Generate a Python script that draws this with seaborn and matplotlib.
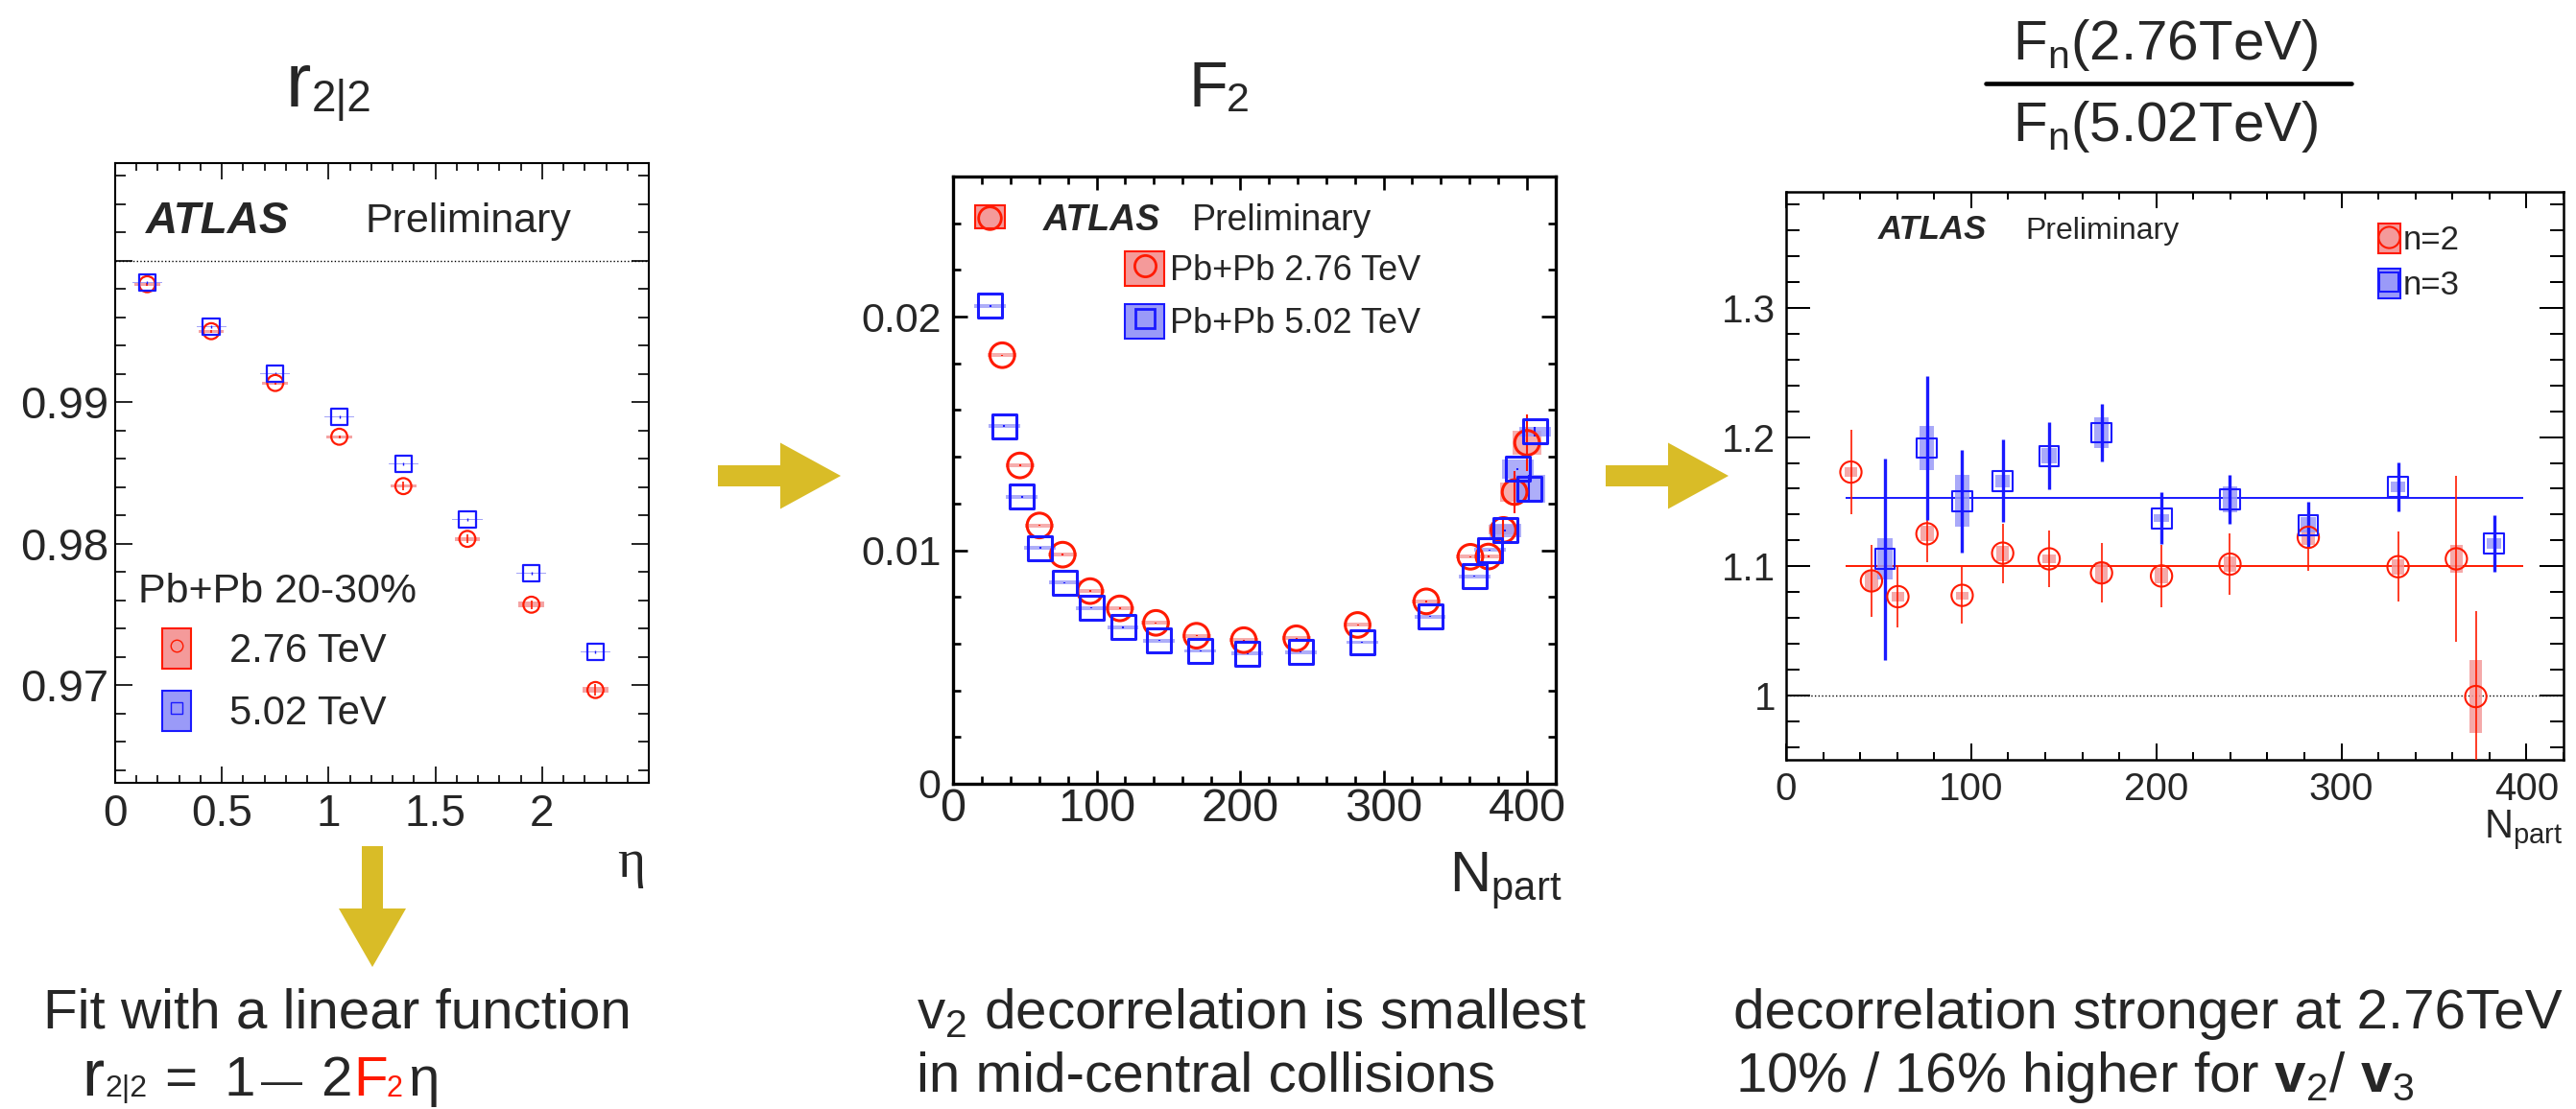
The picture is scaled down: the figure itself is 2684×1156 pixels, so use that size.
import numpy as np
import pandas as pd
import matplotlib
matplotlib.use('Agg')
import matplotlib.pyplot as plt
import seaborn as sns
from matplotlib.patches import Polygon, Patch
from matplotlib.lines import Line2D
from matplotlib.legend_handler import HandlerTuple
from matplotlib.ticker import MultipleLocator

W, H = 2684, 1156

# --- left panel: r2|2 vs eta, Pb+Pb 20-30%
eta = [0.15, 0.45, 0.75, 1.05, 1.35, 1.65, 1.95, 2.25]
r22_276 = [0.99834, 0.99502, 0.99136, 0.98756, 0.98407, 0.98034, 0.97569, 0.96966]
r22_276_stat = [0.0001, 0.0001, 0.0001, 0.0001, 0.0003, 0.0003, 0.0003, 0.0004]
r22_276_sys = [0.0001, 0.0001, 0.0001, 0.0001, 0.0001, 0.00015, 0.0002, 0.0002]
r22_502 = [0.99847, 0.99536, 0.99203, 0.98898, 0.98563, 0.98173, 0.97793, 0.97234]
r22_502_stat = [0.0001] * 8
r22_502_sys = [0.00004] * 8

# --- middle panel: F2 vs Npart
npart_276 = [34.3, 46.6, 60.2, 76.4, 95.5, 116.2, 141.4, 169.6, 202.6, 239.2,
             281.9, 329.8, 360.5, 373.1, 383.5, 391.3, 400.0]
f2_276 = [0.01835, 0.01363, 0.01106, 0.00981, 0.00825, 0.00751, 0.00689, 0.00634, 0.00615,
          0.00623, 0.00680, 0.00781, 0.00972, 0.00973, 0.01087, 0.01249, 0.0146]
f2_276_stat = [0.00003] * 14 + [0.0005, 0.0009, 0.0012]
f2_276_sys = [0.00008] * 14 + [0.0002, 0.0004, 0.0005]
npart_502 = [25.9, 35.6, 47.9, 60.8, 77.7, 96.4, 118.4, 143.7, 172.5, 205.2, 242.4,
             285.1, 332.4, 363.4, 374.1, 384.8, 393.5, 401.6, 405.5]
f2_502 = [0.02046, 0.01532, 0.01229, 0.01010, 0.00861, 0.00753, 0.00670, 0.00613, 0.00569,
          0.00558, 0.00564, 0.00606, 0.00716, 0.00889, 0.01001, 0.01085, 0.01348, 0.01262, 0.01508]
f2_502_stat = [0.00003] * 17 + [0.0006, 0.0002]
f2_502_sys = [0.00008] * 15 + [0.0003, 0.0004, 0.0006, 0.0002]

# --- right panel: Fn(2.76)/Fn(5.02) vs Npart
npart_n2 = [35.0, 46.1, 60.4, 76.1, 95.1, 117.0, 142.1, 170.4, 202.8, 239.8, 282.1, 330.6, 362.1, 372.6]
ratio_n2 = [1.1729, 1.0886, 1.0764, 1.1251, 1.0774, 1.1101, 1.1057, 1.0948, 1.0924, 1.1016,
            1.1224, 1.0996, 1.1057, 0.999]
ratio_n2_stat = [0.033, 0.028, 0.024, 0.022, 0.022, 0.023, 0.022, 0.023, 0.024, 0.024, 0.026,
                 0.027, 0.064, 0.066]
ratio_n2_sys = [0.004, 0.008, 0.004, 0.006, 0.003, 0.006, 0.003, 0.008, 0.006, 0.006, 0.006,
                0.006, 0.011, 0.028]
npart_n3 = [53.4, 76.1, 95.1, 117.0, 142.1, 170.4, 202.8, 239.8, 282.1, 330.6, 382.5]
ratio_n3 = [1.1054, 1.1916, 1.1504, 1.166, 1.1855, 1.2035, 1.1371, 1.1517, 1.132, 1.1613, 1.1176]
ratio_n3_stat = [0.078, 0.056, 0.040, 0.032, 0.026, 0.022, 0.020, 0.019, 0.018, 0.019, 0.022]
ratio_n3_sys = [0.016, 0.017, 0.020, 0.005, 0.006, 0.012, 0.003, 0.010, 0.006, 0.004, 0.004]
fit_n2 = 1.100
fit_n3 = 1.153
fit_range = [32, 398]

RED, BLUE = '#FF1A00', '#1A1AFF'
LRED, LBLUE = '#F49A9A', '#9A9AF8'
GOLD = '#D9BC27'

sns.set_style('ticks')
plt.rcParams['font.family'] = ['Liberation Sans', 'DejaVu Sans']
plt.rcParams['mathtext.fontset'] = 'custom'
plt.rcParams['mathtext.rm'] = 'Liberation Sans'
plt.rcParams['mathtext.it'] = 'Liberation Sans:italic'
plt.rcParams['mathtext.bf'] = 'Liberation Sans:bold'

fig = plt.figure(figsize=(W / 100, H / 100), dpi=100)


def px_axes(l, t, r, b):
    return fig.add_axes([l / W, 1 - b / H, (r - l) / W, (b - t) / H])


def ftext(x, y, s, size, **kw):
    kw.setdefault('va', 'baseline')
    return fig.text(x / W, 1 - y / H, s, fontsize=size, **kw)


def root_style(ax, xlen, ylen, xlab, ylab, xpad, ypad, lw):
    ax.tick_params(which='both', direction='in', top=True, right=True, bottom=True, left=True,
                   width=lw * 0.8, color='black')
    ax.tick_params(axis='x', which='major', length=xlen[0], labelsize=xlab, pad=xpad)
    ax.tick_params(axis='x', which='minor', length=xlen[1])
    ax.tick_params(axis='y', which='major', length=ylen[0], labelsize=ylab, pad=ypad)
    ax.tick_params(axis='y', which='minor', length=ylen[1])
    for s in ax.spines.values():
        s.set_visible(True)
        s.set_linewidth(lw)
        s.set_color('black')
    ax.set_xlabel('')
    ax.set_ylabel('')


def series(ax, x, y, stat, sys, sys_w, color, fill, marker, ms, mew, elw, alpha):
    y = np.array(y)
    sys = np.array(sys)
    ax.bar(x, 2 * sys, bottom=y - sys, width=sys_w, color=fill, alpha=alpha, linewidth=0, zorder=2)
    ax.errorbar(x, y, yerr=stat, fmt='none', ecolor=color, elinewidth=elw, capsize=0, zorder=3)
    df = pd.DataFrame({'x': x, 'y': y})
    sns.scatterplot(data=df, x='x', y='y', ax=ax, marker=marker, s=ms ** 2,
                    edgecolor=color, linewidth=mew, zorder=4, legend=False)
    ax.collections[-1].set_facecolor('none')


def box_handle(fill, color, marker, ms, mew):
    return (Patch(facecolor=fill, edgecolor=color, linewidth=1.5),
            Line2D([], [], ls='none', marker=marker, ms=ms, mfc='none', mec=color, mew=mew))


OVER = {tuple: HandlerTuple(ndivide=1)}

# ---------------- panel 1
ax1 = px_axes(120, 170, 676, 816)
ax1.axhline(1.0, color='black', ls=':', lw=1)
series(ax1, eta, r22_276, r22_276_stat, r22_276_sys, 0.12, RED, LRED, 'o', 12, 1.6, 1.2, 0.9)
series(ax1, eta, r22_502, r22_502_stat, r22_502_sys, 0.14, BLUE, LBLUE, 's', 12.5, 1.6, 1.0, 0.9)
ax1.set_xlim(0, 2.5)
ax1.set_ylim(0.9631, 1.0069)
ax1.set_xticks([0, 0.5, 1, 1.5, 2], ['0', '0.5', '1', '1.5', '2'])
ax1.set_yticks([0.97, 0.98, 0.99, 1.0], ['0.97', '0.98', '0.99', ''])
ax1.xaxis.set_minor_locator(MultipleLocator(0.1))
ax1.yaxis.set_minor_locator(MultipleLocator(0.002))
root_style(ax1, (12.5, 6), (13, 8), 33, 34, 8, 5, 1.5)
ax1.text(0.058, 0.905, 'ATLAS', transform=ax1.transAxes, fontsize=33, fontweight='bold',
         fontstyle='italic', va='center')
ax1.text(0.468, 0.905, 'Preliminary', transform=ax1.transAxes, fontsize=31, va='center')
ftext(144, 628, 'Pb+Pb 20-30%', 31)
ax1.legend([box_handle(LRED, RED, 'o', 9, 1.0), box_handle(LBLUE, BLUE, 's', 9, 1.0)],
           ['2.76 TeV', '5.02 TeV'], handler_map=OVER,
           loc='upper left', bbox_to_anchor=(169 / W, 1 - 655 / H), bbox_transform=fig.transFigure,
           frameon=False, fontsize=30, handlelength=0.72, handleheight=1.18,
           handletextpad=0.95, labelspacing=0.5, borderpad=0, borderaxespad=0)

# ---------------- panel 2
ax2 = px_axes(993, 184, 1621, 817)
series(ax2, npart_276, f2_276, f2_276_stat, f2_276_sys, 20, RED, LRED, 'o', 18.5, 2.2, 1.5, 0.8)
series(ax2, npart_502, f2_502, f2_502_stat, f2_502_sys, 22, BLUE, LBLUE, 's', 18, 2.2, 1.5, 0.8)
ax2.set_xlim(0, 420)
ax2.set_ylim(0, 0.026)
ax2.set_xticks([0, 100, 200, 300, 400], ['0', '100', '200', '300', '400'])
ax2.set_yticks([0, 0.01, 0.02], ['0', '0.01', '0.02'])
ax2.xaxis.set_minor_locator(MultipleLocator(20))
ax2.yaxis.set_minor_locator(MultipleLocator(0.002))
root_style(ax2, (10, 5.5), (11, 6), 35, 31, 3, 9, 2.4)
ftext(1087, 240, 'ATLAS', 27, fontweight='bold', fontstyle='italic')
ftext(1242, 240, 'Preliminary', 27)
leg2a = ax2.legend([box_handle(LRED, RED, 'o', 17, 2.0)], [''], handler_map=OVER,
                   loc='upper left', bbox_to_anchor=(1016 / W, 1 - 212 / H), bbox_transform=fig.transFigure,
                   frameon=False, fontsize=26, handlelength=0.85, handleheight=0.65,
                   borderpad=0, borderaxespad=0)
ax2.add_artist(leg2a)
ax2.legend([box_handle(LRED, RED, 'o', 16, 2.0), box_handle(LBLUE, BLUE, 's', 15, 2.0)],
           ['Pb+Pb 2.76 TeV', 'Pb+Pb 5.02 TeV'], handler_map=OVER,
           loc='upper left', bbox_to_anchor=(1172 / W, 1 - 262 / H), bbox_transform=fig.transFigure,
           frameon=False, fontsize=26, handlelength=1.14, handleheight=1.17,
           handletextpad=0.15, labelspacing=0.45, borderpad=0, borderaxespad=0)
ftext(1510, 930, r'N$_{\mathregular{part}}$', 43)

# ---------------- panel 3
ax3 = px_axes(1861, 200, 2671, 792)
ax3.axhline(1.0, color='black', ls=':', lw=1)
ax3.hlines([fit_n3], fit_range[0], fit_range[1], color=BLUE, lw=1.4, zorder=1)
ax3.hlines([fit_n2], fit_range[0], fit_range[1], color=RED, lw=1.4, zorder=1)
series(ax3, npart_n2, ratio_n2, ratio_n2_stat, ratio_n2_sys, 7, RED, LRED, 'o', 16, 1.5, 1.2, 0.85)
series(ax3, npart_n3, ratio_n3, ratio_n3_stat, ratio_n3_sys, 8, BLUE, LBLUE, 's', 15, 1.5, 2.4, 0.85)
ax3.set_xlim(0, 420)
ax3.set_ylim(0.95, 1.39)
ax3.set_xticks([0, 100, 200, 300, 400], ['0', '100', '200', '300', '400'])
ax3.set_yticks([1.0, 1.1, 1.2, 1.3], ['1', '1.1', '1.2', '1.3'])
ax3.xaxis.set_minor_locator(MultipleLocator(20))
ax3.yaxis.set_minor_locator(MultipleLocator(0.02))
root_style(ax3, (12, 6), (18, 10), 29, 29, 9, 8, 1.8)
ftext(1957, 249, 'ATLAS', 25, fontweight='bold', fontstyle='italic')
ftext(2110, 249, 'Preliminary', 23)
ax3.legend([box_handle(LRED, RED, 'o', 16, 1.5), box_handle(LBLUE, BLUE, 's', 15, 1.5)],
           ['n=2', 'n=3'], handler_map=OVER,
           loc='upper left', bbox_to_anchor=(2478 / W, 1 - 233 / H), bbox_transform=fig.transFigure,
           frameon=False, fontsize=25, handlelength=0.66, handleheight=0.98,
           handletextpad=0.08, labelspacing=0.37, borderpad=0, borderaxespad=0)
ftext(2671, 873, r'N$_{\mathregular{part}}$', 30, ha='right')

# ---------------- titles
ftext(298, 111, 'r', 57)
ftext(325, 116, '2|2', 33)
ftext(1238, 111, 'F', 48)
ftext(1278, 116, '2', 31)
ftext(2256, 62, r'F$_{\mathregular{n}}$(2.76TeV)', 42, ha='center')
ftext(2256, 147, r'F$_{\mathregular{n}}$(5.02TeV)', 42, ha='center')
fig.add_artist(Line2D([2069 / W, 2450 / W], [1 - 87 / H, 1 - 87 / H], color='black', lw=3.3,
                      transform=fig.transFigure))
ftext(643, 914, 'η', 40, family='Liberation Serif')


# ---------------- arrows
def arrow(x0, y0, x1, y1, shaft, head, head_len):
    d = np.array([x1 - x0, y1 - y0], float)
    L = np.hypot(*d)
    u = d / L
    n = np.array([-u[1], u[0]])
    p0 = np.array([x0, y0], float)
    b = p0 + u * (L - head_len)
    pts = [p0 + n * shaft / 2, b + n * shaft / 2, b + n * head / 2, np.array([x1, y1], float),
           b - n * head / 2, b - n * shaft / 2, p0 - n * shaft / 2]
    pts = [(p[0] / W, 1 - p[1] / H) for p in pts]
    fig.add_artist(Polygon(pts, closed=True, facecolor=GOLD, edgecolor='none',
                           transform=fig.transFigure))


arrow(748, 496, 876, 496, 22, 69, 63)
arrow(1673, 496, 1801, 496, 22, 69, 63)
arrow(388, 882, 388, 1008, 22, 70, 61)

# ---------------- bottom notes
ftext(45, 1072, 'Fit with a linear function', 42)
ftext(85, 1142, 'r', 50)
ftext(109, 1143, '2|2', 23)
ftext(171, 1142, '=', 42)
ftext(233, 1142, '1', 42)
ftext(272, 1140, '—', 31)
ftext(334, 1142, '2', 42)
ftext(368, 1142, 'F', 42, color=RED)
ftext(402, 1143, '2', 22, color=RED)
ftext(425, 1142, 'η', 42)

ftext(955, 1072, r'v$_{2}$ decorrelation is smallest', 42)
ftext(955, 1137, 'in mid-central collisions', 42)
ftext(1806, 1072, 'decorrelation stronger at 2.76TeV', 42)
ftext(1808, 1138, r'10% / 16% higher for $\mathbf{v}_{2}$/ $\mathbf{v}_{3}$', 42)

fig.savefig('out.png', dpi=100)
